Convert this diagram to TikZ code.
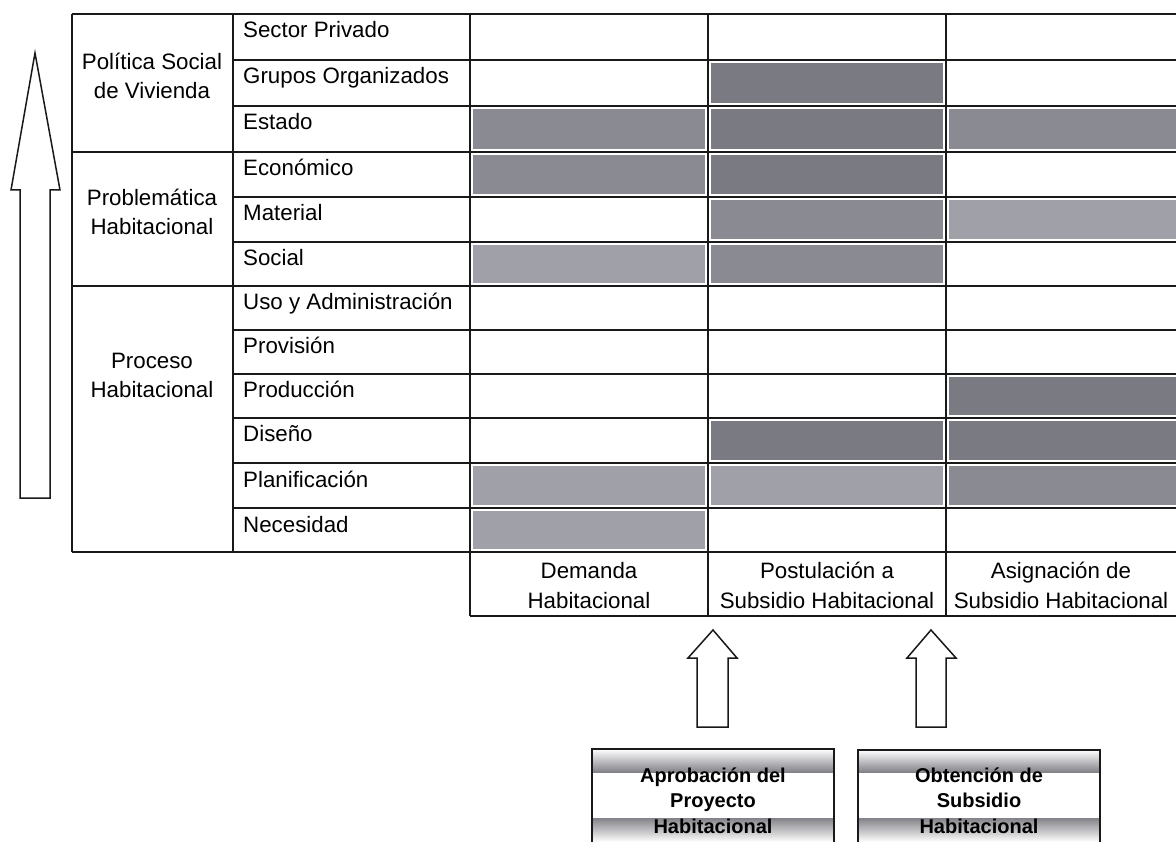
\documentclass[tikz,border=0pt]{standalone}
\usepackage{fontspec}
\setmainfont{Liberation Sans}
\definecolor{shD}{RGB}{122,122,130}
\definecolor{shM}{RGB}{138,138,146}
\definecolor{shL}{RGB}{160,160,168}
\definecolor{lineC}{RGB}{25,25,25}
\definecolor{bandC}{RGB}{130,130,136}
\begin{document}
\begin{tikzpicture}[x=1pt,y=-1pt,
  tline/.style={draw=lineC,line width=1.7pt},
  rowlabel/.style={anchor=base west,inner sep=0pt,font=\fontsize{22.3}{26}\selectfont},
  grouplabel/.style={anchor=base,inner sep=0pt,align=center,font=\fontsize{22.3}{29}\selectfont},
  headlabel/.style={anchor=base,inner sep=0pt,align=center,font=\fontsize{22.3}{30}\selectfont},
  boxlabel/.style={anchor=base,inner sep=0pt,align=center,font=\fontsize{20}{25.5}\selectfont\bfseries},
  fatarrow/.style={draw=lineC,line width=1.5pt,fill=white,line join=miter}]
\useasboundingbox (0,0) rectangle (1176,842);
\clip (0,0) rectangle (1176,842);
\fill[white] (0,0) rectangle (1176,842);

% row tops
\def\ya{14}\def\yb{60}\def\yc{106}\def\yd{152}\def\ye{197}\def\yf{242}
\def\yg{286}\def\yh{330}\def\yi{374}\def\yj{418}\def\yk{463}\def\yl{508}\def\ym{552}

% shaded cells: col x-range, top, bottom, colour
\newcommand\shadecell[5]{\fill[#5] (#1+3,#3+3) rectangle (#2-3,#4-3);}
% Grupos Organizados
\shadecell{708}{946}{\yb}{\yc}{shD}
% Estado
\shadecell{470}{708}{\yc}{\yd}{shM}
\shadecell{708}{946}{\yc}{\yd}{shD}
\shadecell{946}{1182}{\yc}{\yd}{shM}
% Economico
\shadecell{470}{708}{\yd}{\ye}{shM}
\shadecell{708}{946}{\yd}{\ye}{shD}
% Material
\shadecell{708}{946}{\ye}{\yf}{shM}
\shadecell{946}{1182}{\ye}{\yf}{shL}
% Social
\shadecell{470}{708}{\yf}{\yg}{shL}
\shadecell{708}{946}{\yf}{\yg}{shM}
% Produccion
\shadecell{946}{1182}{\yi}{\yj}{shD}
% Diseno
\shadecell{708}{946}{\yj}{\yk}{shD}
\shadecell{946}{1182}{\yj}{\yk}{shD}
% Planificacion
\shadecell{470}{708}{\yk}{\yl}{shL}
\shadecell{708}{946}{\yk}{\yl}{shL}
\shadecell{946}{1182}{\yk}{\yl}{shM}
% Necesidad
\shadecell{470}{708}{\yl}{\ym}{shL}

% table lines
\draw[tline] (72,\ya) -- (1176,\ya);
\foreach \yy in {\yb,\yc,\ye,\yf,\yh,\yi,\yj,\yk,\yl}{\draw[tline] (233,\yy) -- (1176,\yy);}
\foreach \yy in {\yd,\yg,\ym}{\draw[tline] (72,\yy) -- (1176,\yy);}
\draw[tline] (470,616) -- (1176,616);
\draw[tline] (72,\ya) -- (72,\ym);
\draw[tline] (233,\ya) -- (233,\ym);
\foreach \xx in {470,708,946}{\draw[tline] (\xx,\ya) -- (\xx,616);}

% group labels (anchor base = last line baseline)
\node[grouplabel] (g1) at (152,99) {Política Social\\de Vivienda};
\node[grouplabel] (g2) at (152,235) {Problemática\\Habitacional};
\node[grouplabel] (g3) at (152,398) {Proceso\\Habitacional};

% row labels
\node[rowlabel] (r1) at (243,\ya+24) {Sector Privado};
\node[rowlabel] (r2) at (243,\yb+24) {Grupos Organizados};
\node[rowlabel] (r3) at (243,\yc+24) {Estado};
\node[rowlabel] (r4) at (243,\yd+24) {Económico};
\node[rowlabel] (r5) at (243,\ye+24) {Material};
\node[rowlabel] (r6) at (243,\yf+24) {Social};
\node[rowlabel] (r7) at (243,\yg+24) {Uso y Administración};
\node[rowlabel] (r8) at (243,\yh+24) {Provisión};
\node[rowlabel] (r9) at (243,\yi+24) {Producción};
\node[rowlabel] (r10) at (243,\yj+24) {Diseño};
\node[rowlabel] (r11) at (243,\yk+24) {Planificación};
\node[rowlabel] (r12) at (243,\yl+24) {Necesidad};

% column headers
\node[headlabel] (h1) at (589,608) {Demanda\\Habitacional};
\node[headlabel] (h2) at (827,608) {Postulación a\\Subsidio Habitacional};
\node[headlabel] (h3) at (1061,608) {Asignación de\\Subsidio Habitacional};

% left big arrow
\draw[fatarrow] (20,498) -- (20,190) -- (11,190) -- (35,53) -- (60,190) -- (50,190) -- (50,498) -- cycle;

% bottom boxes
\coordinate (b1nw) at (592,749);
\coordinate (b1se) at (834,850);
\coordinate (b2nw) at (858,750);
\coordinate (b2se) at (1100,850);
\shade[top color=white,bottom color=bandC] (592,749) rectangle (834,772);
\shade[top color=bandC,bottom color=white] (592,818) rectangle (834,842);
\shade[top color=white,bottom color=bandC] (858,750) rectangle (1100,772);
\shade[top color=bandC,bottom color=white] (858,818) rectangle (1100,842);
\draw[draw=lineC,line width=1.5pt] (b1nw) rectangle (b1se);
\draw[draw=lineC,line width=1.5pt] (b2nw) rectangle (b2se);
\node[boxlabel] (bx1) at (713,833) {Aprobación del\\Proyecto\\Habitacional};
\node[boxlabel] (bx2) at (979,833) {Obtención de\\Subsidio\\Habitacional};

% small arrows
\draw[fatarrow] (697,727) -- (697,658) -- (688,658) -- (713,630) -- (737,658) -- (728,658) -- (728,727) -- cycle;
\draw[fatarrow] (916,727) -- (916,658) -- (907,658) -- (931,630) -- (956,658) -- (946,658) -- (946,727) -- cycle;
\end{tikzpicture}
\end{document}
